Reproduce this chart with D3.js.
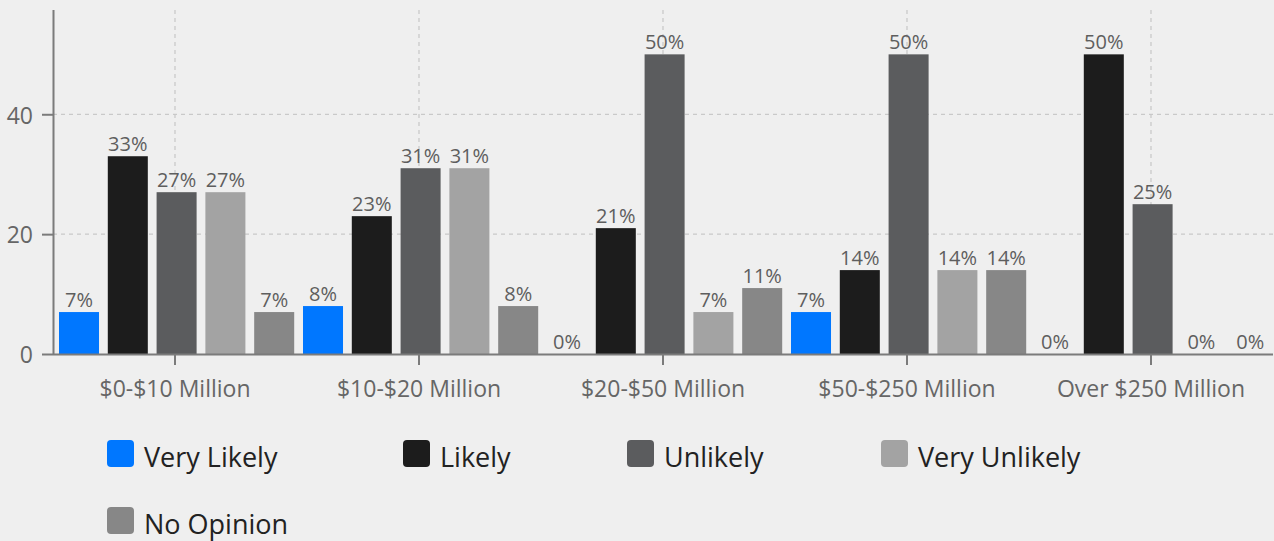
<!DOCTYPE html>
<html>
<head>
<meta charset="utf-8">
<script src="https://cdn.jsdelivr.net/npm/d3@7"></script>
<style>
  html, body { margin: 0; padding: 0; background: #efefef; }
  svg { display: block; font-family: "Open Sans", "Noto Sans", sans-serif; }
</style>
</head>
<body>
<svg id="chart" width="1274" height="541"></svg>
<script>
// Survey responses by company size (percent of respondents)
const categories = ["$0-$10 Million", "$10-$20 Million", "$20-$50 Million", "$50-$250 Million", "Over $250 Million"];
const seriesNames = ["Very Likely", "Likely", "Unlikely", "Very Unlikely", "No Opinion"];
const veryLikely   = [7, 8, 0, 7, 0];
const likely       = [33, 23, 21, 14, 50];
const unlikely     = [27, 31, 50, 50, 25];
const veryUnlikely = [27, 31, 7, 14, 0];
const noOpinion    = [7, 8, 11, 14, 0];
const yTicks = [0, 20, 40];
const seriesColors = ["#0077ff", "#1c1c1c", "#5b5c5e", "#a3a3a3", "#878787"];

(function () {
  const seriesValues = [veryLikely, likely, unlikely, veryUnlikely, noOpinion];
  const rows = categories.map((c, i) => ({
    category: c,
    values: seriesNames.map((s, j) => ({ series: s, value: seriesValues[j][i] }))
  }));

  const svg = d3.select("#chart");
  const plotLeft = 53, plotRight = 1273, plotTop = 10, plotBottom = 354;

  const x0 = d3.scaleBand().domain(categories).range([plotLeft, plotRight]).padding(0);
  const x1 = d3.scaleBand().domain(seriesNames)
    .range([6, x0.bandwidth() - 2.8]).paddingInner(0.18).paddingOuter(0);
  const y = d3.scaleLinear().domain([0, 57.4]).range([plotBottom, plotTop]);
  const color = d3.scaleOrdinal().domain(seriesNames).range(seriesColors);

  // Grid lines
  const grid = svg.append("g").attr("stroke", "#c9c9c9").attr("stroke-width", 1.3)
    .attr("stroke-dasharray", "4,4");
  grid.selectAll("line.h").data(yTicks.filter(d => d > 0)).join("line")
    .attr("class", "h")
    .attr("x1", plotLeft).attr("x2", plotRight)
    .attr("y1", d => y(d)).attr("y2", d => y(d));
  grid.selectAll("line.v").data(categories).join("line")
    .attr("class", "v")
    .attr("x1", d => x0(d) + x0.bandwidth() / 2).attr("x2", d => x0(d) + x0.bandwidth() / 2)
    .attr("y1", plotTop).attr("y2", plotBottom);

  // Bars
  const groups = svg.append("g").selectAll("g").data(rows).join("g")
    .attr("transform", d => `translate(${x0(d.category)},0)`);
  groups.selectAll("rect").data(d => d.values).join("rect")
    .attr("x", d => x1(d.series))
    .attr("width", x1.bandwidth())
    .attr("y", d => y(d.value))
    .attr("height", d => y(0) - y(d.value))
    .attr("fill", d => color(d.series));

  // Value labels
  groups.selectAll("text").data(d => d.values).join("text")
    .attr("x", d => x1(d.series) + x1.bandwidth() / 2)
    .attr("y", d => y(d.value) - 5)
    .attr("text-anchor", "middle")
    .attr("font-size", 20)
    .attr("fill", "#5e5e5e")
    .text(d => d.value + "%");

  // Y axis
  const yAxis = svg.append("g").attr("transform", `translate(${plotLeft},0)`)
    .call(d3.axisLeft(y).tickValues(yTicks).tickSize(11).tickPadding(9).tickSizeOuter(0));
  yAxis.select(".domain").attr("stroke", "#7b7b7b").attr("stroke-width", 2)
    .attr("d", `M0.5,${plotTop}V${plotBottom}`);
  yAxis.selectAll(".tick line").attr("stroke", "#7b7b7b").attr("stroke-width", 2);
  yAxis.selectAll(".tick text").attr("font-size", 23).attr("fill", "#666")
    .attr("font-family", "'Open Sans', sans-serif").attr("dy", "0.38em");

  // X axis
  const xAxis = svg.append("g").attr("transform", `translate(0,${plotBottom})`)
    .call(d3.axisBottom(x0).tickSize(11).tickPadding(16).tickSizeOuter(0));
  xAxis.select(".domain").attr("stroke", "#7b7b7b").attr("stroke-width", 2)
    .attr("d", `M${plotLeft},0.5H${plotRight}`);
  xAxis.selectAll(".tick line").attr("stroke", "#7b7b7b").attr("stroke-width", 2);
  xAxis.selectAll(".tick text").attr("font-size", 23).attr("fill", "#666")
    .attr("font-family", "'Open Sans', sans-serif");

  // Legend
  const legendPos = [[107, 440], [403, 440], [627, 440], [881, 440], [107, 507]];
  const legend = svg.append("g").selectAll("g").data(seriesNames).join("g")
    .attr("transform", (d, i) => `translate(${legendPos[i][0]},${legendPos[i][1]})`);
  legend.append("rect")
    .attr("width", 27).attr("height", 27).attr("rx", 4)
    .attr("fill", d => color(d));
  legend.append("text")
    .attr("x", 37).attr("y", 26.5)
    .attr("font-size", 27).attr("fill", "#222")
    .text(d => d);
})();
</script>
</body>
</html>
